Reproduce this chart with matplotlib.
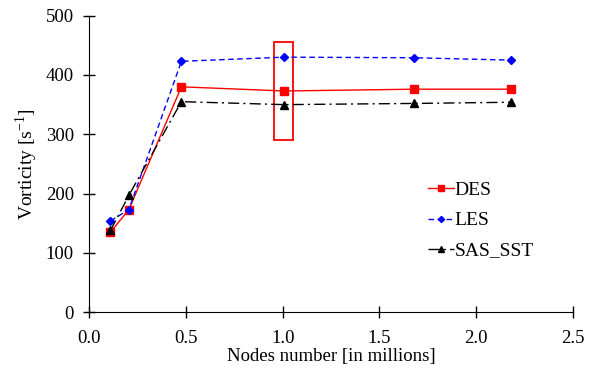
import matplotlib
matplotlib.use("Agg")
import matplotlib.pyplot as plt
from matplotlib.patches import Rectangle

plt.rcParams['font.family'] = ['Liberation Serif', 'DejaVu Serif']
plt.rcParams['mathtext.fontset'] = 'custom'
plt.rcParams['mathtext.rm'] = 'Liberation Serif'

nodes = [0.109, 0.204, 0.476, 1.007, 1.679, 2.179]
des = [135, 173, 380, 373, 376, 376]
les = [154, 173, 423, 430, 429, 425]
sas_sst = [138, 197, 355, 350, 352, 354]

fig = plt.figure(figsize=(6, 3.72), dpi=100)
ax = fig.add_axes([0.149, 0.1605, 0.8055, 0.7975])

ax.plot(nodes, des, color='#ff0000', lw=1.0, ls='-', marker='s', ms=5.5, label='DES')
ax.plot(nodes, les, color='#0000ff', lw=1.0, ls=(0, (4, 2.5)), marker='D', ms=4.2, label='LES')
ax.plot(nodes, sas_sst, color='black', lw=1.0, ls=(0, (8, 3, 1.5, 3)), marker='^', ms=5.5, label='SAS_SST')

ax.add_patch(Rectangle((0.955, 291), 0.10, 164, fill=False, edgecolor='#ff0000', lw=1.3))

ax.set_xlim(0, 2.5)
ax.set_ylim(0, 500)
ax.set_xticks([0.0, 0.5, 1.0, 1.5, 2.0, 2.5])
ax.set_xticklabels(['0.0', '0.5', '1.0', '1.5', '2.0', '2.5'])
ax.set_yticks([0, 100, 200, 300, 400, 500])
ax.spines['top'].set_visible(False)
ax.spines['right'].set_visible(False)
ax.tick_params(direction='inout', length=8.5, width=1, labelsize=13.5)
ax.tick_params(axis='x', pad=8.5)
ax.tick_params(axis='y', pad=7)

ax.set_xlabel('Nodes number [in millions]', fontsize=13.5, labelpad=0.5)
ax.set_ylabel(r'Vorticity [s$^{\mathregular{-1}}$]', fontsize=14, labelpad=4)

leg = ax.legend(loc='upper left', bbox_to_anchor=(0.665, 0.5), frameon=False,
                fontsize=14, handlelength=1.3, handletextpad=0.05, labelspacing=0.65,
                markerscale=0.75)

fig.savefig('out.png', dpi=100)
